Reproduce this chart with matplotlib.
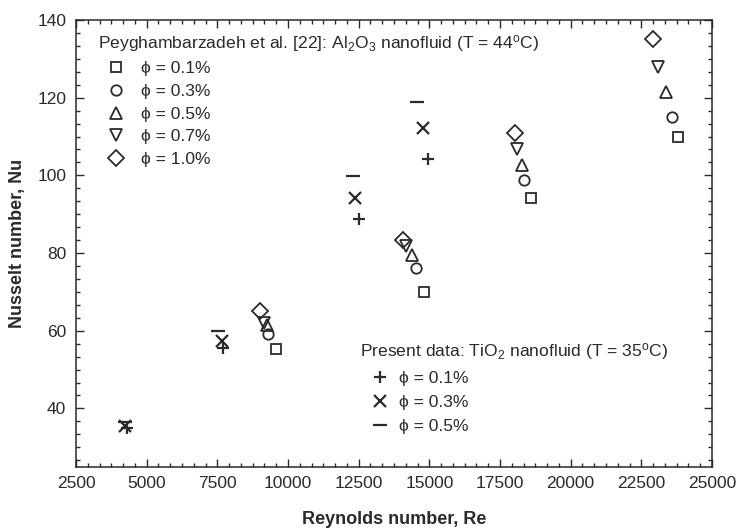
import numpy as np
import matplotlib
matplotlib.use("Agg")
import matplotlib.pyplot as plt
from matplotlib.ticker import MultipleLocator
from matplotlib.lines import Line2D

plt.rcParams['font.family'] = ['Liberation Sans', 'DejaVu Sans']
plt.rcParams['mathtext.fontset'] = 'custom'
plt.rcParams['mathtext.rm'] = 'Liberation Sans'
plt.rcParams['mathtext.it'] = 'Liberation Sans:italic'

INK = '#2a2a2a'
PHI = '\u03d5'

# Peyghambarzadeh et al. Al2O3 nanofluid (T = 44 C)
al_labels = ['0.1%', '0.3%', '0.5%', '0.7%', '1.0%']
al_markers = ['s', 'o', '^', 'v', 'D']
al_re = [
    [9590, 14810, 18580, 23780],   # 0.1 %
    [9300, 14530, 18350, 23570],   # 0.3 %
    [9240, 14380, 18270, 23370],   # 0.5 %
    [9160, 14170, 18110, 23100],   # 0.7 %
    [9000, 14080, 18030, 22920],   # 1.0 %
]
al_nu = [
    [55.2, 70.1, 94.1, 110.0],
    [59.1, 76.2, 98.9, 115.0],
    [61.4, 79.4, 102.6, 121.5],
    [62.0, 81.7, 106.9, 128.0],
    [65.2, 83.4, 110.9, 135.0],
]

# present data, TiO2 nanofluid (T = 35 C)
ti_labels = ['0.1%', '0.3%', '0.5%']
ti_markers = ['+', 'x', '_']
ti_re = [
    [4300, 7710, 12510, 14940],    # 0.1 %
    [4250, 7650, 12370, 14790],    # 0.3 %
    [4240, 7530, 12290, 14580],    # 0.5 %
]
ti_nu = [
    [35.0, 55.6, 88.7, 104.2],
    [35.5, 57.4, 94.2, 112.1],
    [36.4, 59.9, 99.8, 118.9],
]

fig = plt.figure(figsize=(7.37, 5.29), dpi=100)
ax = fig.add_axes([0.1031, 0.1178, 0.8630, 0.8444])

al_sizes = [7, 7.5, 8, 8, 8.5]
for re, nu, m, s in zip(al_re, al_nu, al_markers, al_sizes):
    ax.plot(re, nu, linestyle='none', marker=m, markersize=s,
            markerfacecolor='none', markeredgecolor=INK, markeredgewidth=1.3)

ti_sizes = [9, 9, 10]
for re, nu, m, s in zip(ti_re, ti_nu, ti_markers, ti_sizes):
    ax.plot(re, nu, linestyle='none', marker=m, markersize=s,
            color=INK, markeredgewidth=1.6)

ax.set_xlim(2500, 25000)
ax.set_ylim(25, 140)
ax.xaxis.set_major_locator(MultipleLocator(2500))
ax.xaxis.set_minor_locator(MultipleLocator(2500 / 6))
ax.yaxis.set_major_locator(MultipleLocator(20))
ax.yaxis.set_minor_locator(MultipleLocator(20 / 6))
ax.set_yticks([40, 60, 80, 100, 120, 140])
ax.tick_params(which='both', direction='in', top=True, right=True,
               colors=INK, labelsize=12.5, width=1.0)
ax.tick_params(which='major', length=6, pad=7)
ax.tick_params(which='minor', length=3)
for sp in ax.spines.values():
    sp.set_color(INK)
    sp.set_linewidth(1.1)

ax.set_xlabel('Reynolds number, Re', fontsize=13, fontweight='bold',
              color=INK, labelpad=14)
ax.set_ylabel('Nusselt number, Nu', fontsize=13, fontweight='bold',
              color=INK, labelpad=8)

# legends: one per data source, marker only entries
al_handles = [Line2D([], [], linestyle='none', marker=m, markersize=s,
                     markerfacecolor='none', markeredgecolor=INK,
                     markeredgewidth=1.3)
              for m, s in zip(al_markers, al_sizes)]
leg1 = ax.legend(al_handles, [PHI + ' = ' + t for t in al_labels],
                 title=r'Peyghambarzadeh et al. [22]: Al$_2$O$_3$ nanofluid (T = 44$^{\rm o}$C)',
                 loc='upper left', bbox_to_anchor=(0.026, 0.983), frameon=False,
                 fontsize=12.6, title_fontsize=12.6, handlelength=2.05,
                 handletextpad=0.4, labelspacing=0.42, borderaxespad=0,
                 borderpad=0.3, alignment='left')
for t in leg1.get_texts():
    t.set_color(INK)
leg1.get_title().set_color(INK)
ax.add_artist(leg1)

ti_handles = [Line2D([], [], linestyle='none', marker=m, markersize=s,
                     color=INK, markeredgewidth=1.6)
              for m, s in zip(ti_markers, ti_sizes)]
leg2 = ax.legend(ti_handles, [PHI + ' = ' + t for t in ti_labels],
                 title=r'Present data: TiO$_2$ nanofluid (T = 35$^{\rm o}$C)',
                 loc='upper left', bbox_to_anchor=(0.439, 0.293), frameon=False,
                 fontsize=12.6, title_fontsize=12.6, handlelength=2.2,
                 handletextpad=0.0, labelspacing=0.5, borderaxespad=0,
                 borderpad=0.3, alignment='left')
for t in leg2.get_texts():
    t.set_color(INK)
leg2.get_title().set_color(INK)

fig.savefig('out.png', dpi=100)
